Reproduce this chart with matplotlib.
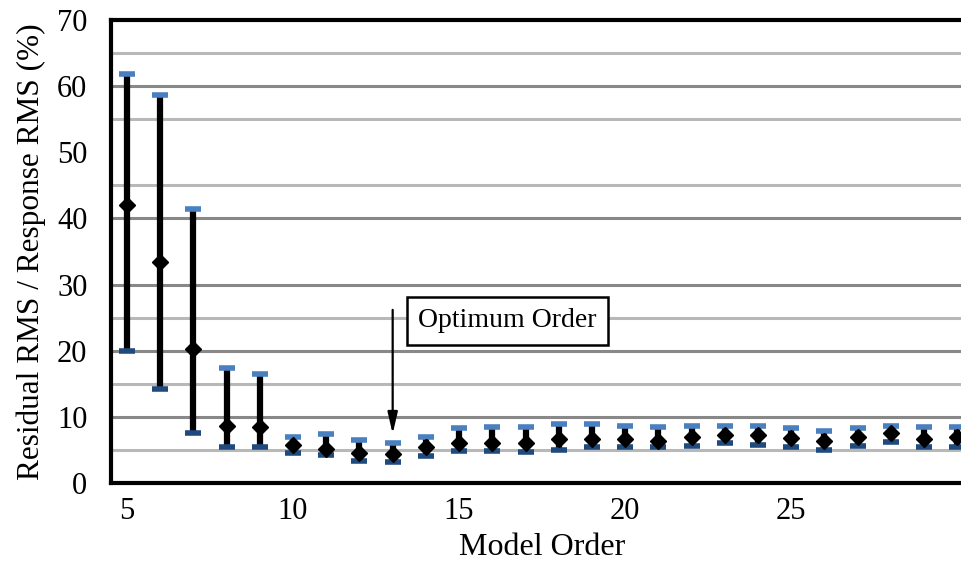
import numpy as np
import matplotlib
matplotlib.use("Agg")
import matplotlib.pyplot as plt

plt.rcParams['font.family'] = ['Liberation Serif', 'DejaVu Serif']

# ------------------------------------------------------------
# data
# ------------------------------------------------------------
orders = [5, 6, 7, 8, 9, 10, 11, 12, 13, 14, 15, 16, 17,
          18, 19, 20, 21, 22, 23, 24, 25, 26, 27, 28, 29, 30]
mean_val = [42.0, 33.4, 20.3, 8.6, 8.4, 5.7, 5.2, 4.6, 4.4, 5.4, 6.1, 6.1, 6.1,
            6.6, 6.6, 6.6, 6.4, 6.9, 7.3, 7.2, 6.8, 6.3, 7.0, 7.6, 6.7, 7.0]
upper_val = [61.9, 58.7, 41.4, 17.4, 16.5, 7.0, 7.4, 6.5, 6.1, 7.0, 8.3, 8.5, 8.4,
             8.9, 8.9, 8.6, 8.4, 8.6, 8.6, 8.6, 8.3, 7.8, 8.3, 8.6, 8.5, 8.5]
lower_val = [19.9, 14.2, 7.5, 5.5, 5.4, 4.5, 4.2, 3.4, 3.2, 4.1, 4.8, 4.8, 4.7,
             5.0, 5.4, 5.4, 5.4, 5.6, 6.0, 5.8, 5.4, 5.0, 5.6, 6.2, 5.5, 5.5]

yticks = [0, 10, 20, 30, 40, 50, 60, 70]
xticks = [5, 10, 15, 20, 25]
grid_dark = [10, 20, 30, 40, 60]
grid_light = [5, 15, 25, 45, 55, 65]

optimum = 13

# ------------------------------------------------------------
# plot
# ------------------------------------------------------------
fig = plt.figure(figsize=(9.62, 5.66), dpi=100)
ax = fig.add_axes([0.1154, 0.1466, 0.897, 0.818])

for g in grid_light:
    ax.axhline(g, color="#b8b8b8", lw=2.2, zorder=1)
for g in grid_dark:
    ax.axhline(g, color="#888888", lw=2.2, zorder=1)

ax.vlines(orders, lower_val, upper_val, color="black", lw=4.5, zorder=2)
ax.plot(orders, upper_val, ls="none", marker="_", ms=11, mew=4.0,
        color="#4a7fc0", zorder=3)
ax.plot(orders, lower_val, ls="none", marker="_", ms=11, mew=4.0,
        color="#1f4a7e", zorder=3)
ax.plot(orders, mean_val, ls="none", marker="D", ms=7.8, color="black", zorder=4)

ax.annotate("", xy=(optimum, 7.0), xytext=(optimum, 26.6),
            arrowprops=dict(arrowstyle="-|>,head_width=0.3,head_length=1.3",
                            color="black", lw=1.6), zorder=5)
ax.text(16.45, 24.5, "Optimum Order", fontsize=20, ha="center", va="center",
        bbox=dict(boxstyle="square,pad=0.4", fc="white", ec="black", lw=1.8),
        zorder=6)

ax.set_xlim(4.52, 30.5)
ax.set_ylim(0, 70)
ax.set_xticks(xticks)
ax.set_yticks(yticks)
ax.tick_params(axis="both", length=0, labelsize=22)
ax.tick_params(axis="y", pad=17)
ax.tick_params(axis="x", pad=10)

for side in ["top", "bottom", "left"]:
    ax.spines[side].set_linewidth(3.0)
ax.spines["right"].set_visible(False)

ax.set_xlabel("Model Order", fontsize=23, labelpad=5)
ax.set_ylabel("Residual RMS / Response RMS (%)", fontsize=22.5, labelpad=8)

fig.savefig("out.png", dpi=100)
